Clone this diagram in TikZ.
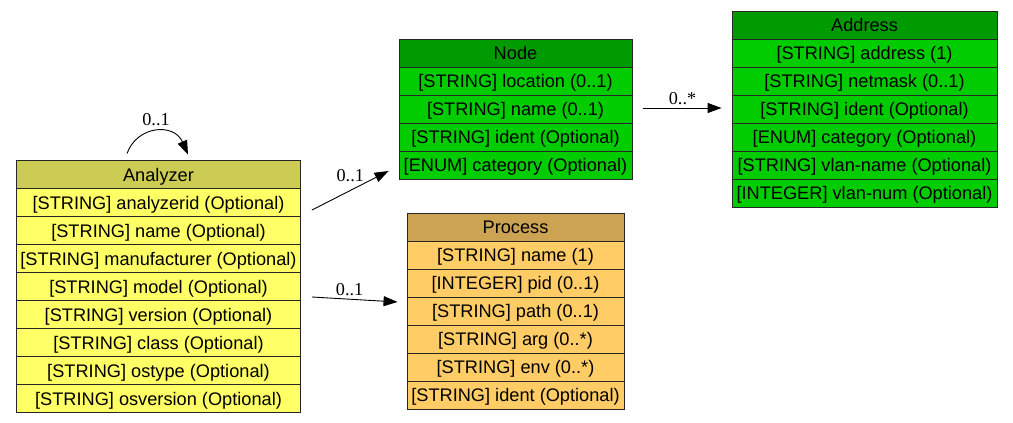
\documentclass[tikz,border=0pt]{standalone}
\usepackage{fontspec}
\setmainfont{Liberation Sans}
\newfontfamily\lblfont{Liberation Serif}
\usetikzlibrary{arrows.meta}
\definecolor{anHead}{RGB}{204,204,85}
\definecolor{anRow}{RGB}{255,255,102}
\definecolor{grHead}{RGB}{0,155,0}
\definecolor{grRow}{RGB}{0,204,0}
\definecolor{prHead}{RGB}{204,163,82}
\definecolor{prRow}{RGB}{255,204,102}
\tikzset{
  cell/.style={draw=black!85, line width=0.9pt, inner sep=0pt, minimum height=28pt,
    text height=13pt, text depth=0pt, font=\fontsize{18.2}{20}\selectfont, anchor=center},
  edge/.style={line width=0.9pt, -{Triangle[length=14pt,width=10pt]}},
  elabel/.style={font=\lblfont\fontsize{18.2}{20}\selectfont, inner sep=0pt}
}
\begin{document}
\begin{tikzpicture}[x=1pt,y=-1pt]
\useasboundingbox (0,0) rectangle (1013,423);
% Analyzer
\foreach \t [count=\i from 0] in {{Analyzer},{[STRING] analyzerid (Optional)},{[STRING] name (Optional)},{[STRING] manufacturer (Optional)},{[STRING] model (Optional)},{[STRING] version (Optional)},{[STRING] class (Optional)},{[STRING] ostype (Optional)},{[STRING] osversion (Optional)}}{
  \ifnum\i=0 \def\fc{anHead}\else\def\fc{anRow}\fi
  \node[cell, fill=\fc, minimum width=284pt] (an\i) at (158.5,174.5+28*\i) {\t};
}
% Node
\foreach \t [count=\i from 0] in {{Node},{[STRING] location (0..1)},{[STRING] name (0..1)},{[STRING] ident (Optional)},{[ENUM] category (Optional)}}{
  \ifnum\i=0 \def\fc{grHead}\else\def\fc{grRow}\fi
  \node[cell, fill=\fc, minimum width=233pt] (nd\i) at (515.5,53+28*\i) {\t};
}
% Address
\foreach \t [count=\i from 0] in {{Address},{[STRING] address (1)},{[STRING] netmask (0..1)},{[STRING] ident (Optional)},{[ENUM] category (Optional)},{[STRING] vlan-name (Optional)},{[INTEGER] vlan-num (Optional)}}{
  \ifnum\i=0 \def\fc{grHead}\else\def\fc{grRow}\fi
  \node[cell, fill=\fc, minimum width=265pt] (ad\i) at (864.5,25+28*\i) {\t};
}
% Process
\foreach \t [count=\i from 0] in {{Process},{[STRING] name (1)},{[INTEGER] pid (0..1)},{[STRING] path (0..1)},{[STRING] arg (0..*)},{[STRING] env (0..*)},{[STRING] ident (Optional)}}{
  \ifnum\i=0 \def\fc{prHead}\else\def\fc{prRow}\fi
  \node[cell, fill=\fc, minimum width=217pt] (pr\i) at (515.5,227+28*\i) {\t};
}
% self loop
\draw[edge] ([shift={(-31.5,-6.5)}]an0.north) .. controls +(10,-28) and +(-14,-32) .. ([shift={(29.5,-5.5)}]an0.north)
  node[elabel, pos=0.5, above=5pt] (l0) {0..1};
% Analyzer -> Node
\draw[edge] ([shift={(11,7.5)}]an1.east) -- ([shift={(-10,6)}]nd4.west)
  node[elabel, pos=0.5, above=8pt] (l1) {0..1};
% Analyzer -> Process
\draw[edge] ([shift={(11,10.5)}]an4.east) -- ([shift={(-9,-9)}]pr3.west)
  node[elabel, pos=0.44, above=3pt] (l2) {0..1};
% Node -> Address
\draw[edge] ([shift={(11,-1)}]nd2.east) -- ([shift={(-10,-1)}]ad3.west)
  node[elabel, pos=0.5, above=3pt] (l3) {0..*};
\end{tikzpicture}
\end{document}
